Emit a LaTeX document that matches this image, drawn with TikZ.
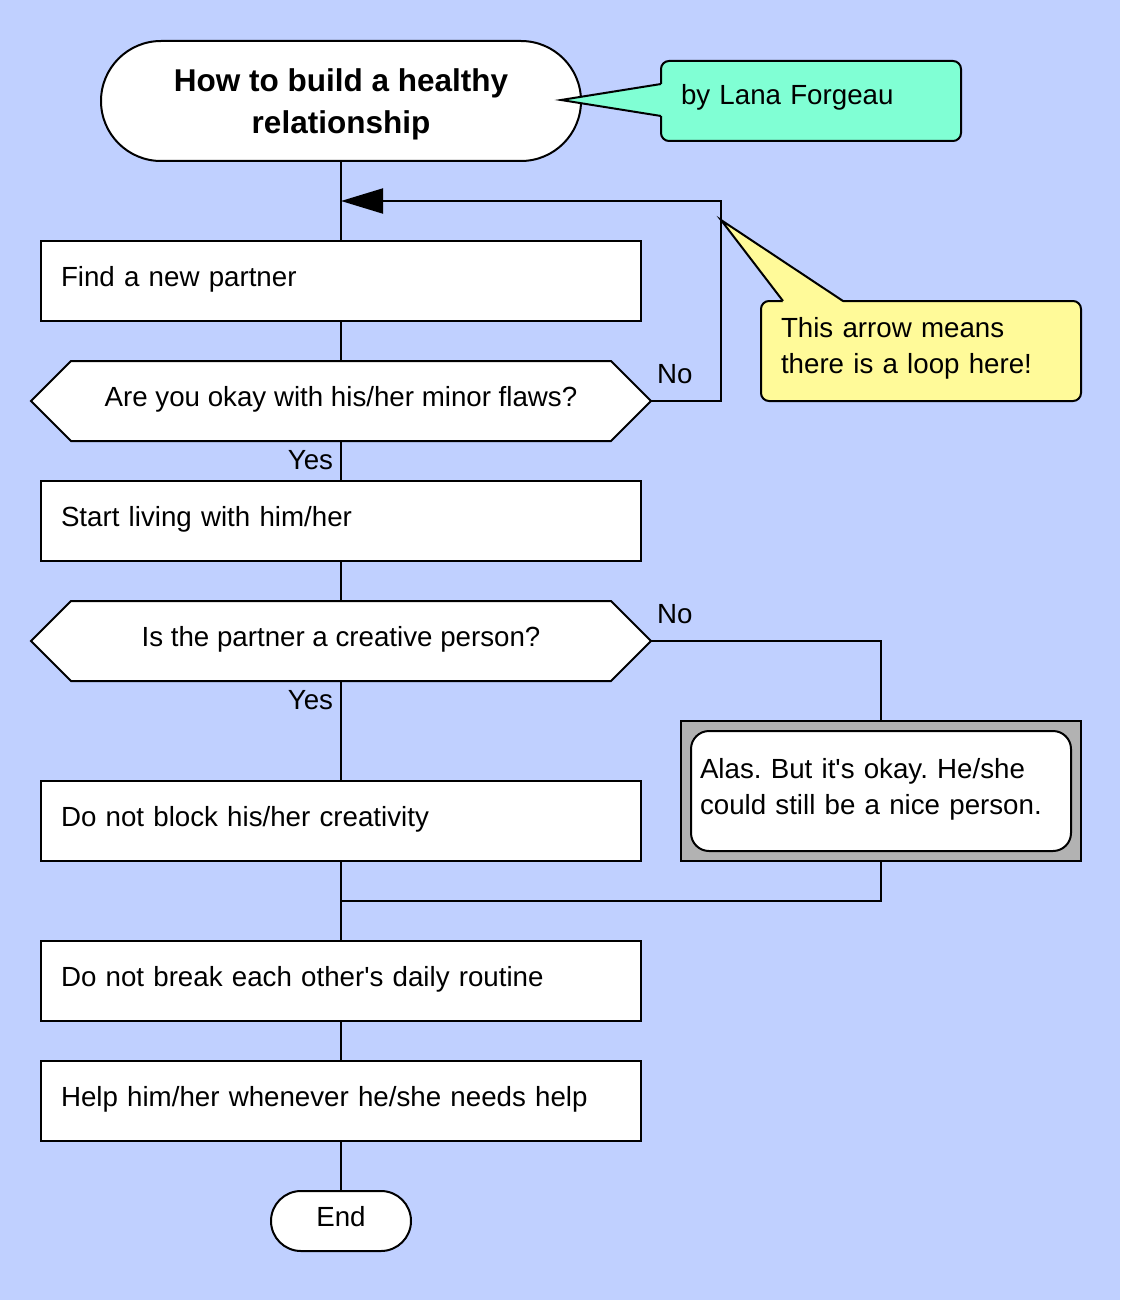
\documentclass[tikz,border=0pt]{standalone}
\usepackage{fontspec}
\setmainfont{Liberation Sans}[Ligatures=TeXOff]
\newfontfamily\bodyf{Liberation Sans}[Ligatures=TeXOff]
\newfontfamily\titlef{Liberation Sans}[Ligatures=TeXOff]
\usetikzlibrary{arrows.meta}
\definecolor{bgc}{RGB}{192,208,255}
\definecolor{greenc}{RGB}{128,255,212}
\definecolor{yellowc}{RGB}{255,250,153}
\definecolor{greyc}{RGB}{178,178,178}
\frenchspacing
\begin{document}
\begin{tikzpicture}[x=1pt,y=-1pt,
  every node/.style={inner sep=0pt,outer sep=0pt},
  line/.style={line width=2pt,draw=black},
  bodytext/.style={font=\bodyf\fontsize{27.7}{36}\selectfont\frenchspacing},
  stepbox/.style={line,bodytext,fill=white,minimum width=600pt,minimum height=80pt,
     text width=560pt,inner xsep=20pt,align=left,text height=18pt,text depth=8pt},
  hexshape/.style={line,fill=white},
  hextext/.style={bodytext,minimum width=620pt,minimum height=80pt,text height=18pt,text depth=8pt},
  lbl/.style={bodytext},
  tip/.style={-{Triangle[length=42pt,width=25pt]}}
]
\useasboundingbox (0,0) rectangle (1120,1300);
\fill[bgc] (0,0) rectangle (1120,1300);

% title
\node[line,fill=white,rounded corners=60pt,minimum width=480pt,minimum height=120pt,
  align=center,font=\titlef\bfseries\fontsize{31.5}{42}\selectfont] (title) at (341,101)
  {\rule{0pt}{31pt}How to build a healthy\\relationship\rule[-7pt]{0pt}{7pt}};

% author callout
\node[line,fill=greenc,rounded corners=8pt,minimum width=300pt,minimum height=80pt,
  text width=260pt,inner xsep=20pt,align=left,bodytext,text height=17pt,text depth=9pt]
  (author) at (811,101) {by Lana Forgeau};
\fill[greenc] (662,84) -- (561,100) -- (662,116) -- (663.5,116) -- (663.5,84) -- cycle;
\draw[line] (661,84) -- (561,100) -- (661,116);

% note callout
\node[line,fill=yellowc,rounded corners=8pt,minimum width=320pt,minimum height=100pt,
  text width=280pt,inner xsep=20pt,align=left,bodytext] (note) at (921,351)
  {\rule{0pt}{22pt}This arrow means\\there is a loop here!\rule[-14pt]{0pt}{14pt}};
\fill[yellowc] (783,302) -- (721,220) -- (843,302) -- (843,303.5) -- (783,303.5) -- cycle;
\draw[line] (783,301) -- (721,220) -- (843,301);

% steps
\node[stepbox] (find) at (341,281) {Find a new partner};
\draw[hexshape] (31,401) -- (71,361) -- (611,361) -- (651,401) -- (611,441) -- (71,441) -- cycle;
\node[hextext] (q1) at (341,401) {Are you okay with his/her minor flaws?};
\node[stepbox] (live) at (341,521) {Start living with him/her};
\draw[hexshape] (31,641) -- (71,601) -- (611,601) -- (651,641) -- (611,681) -- (71,681) -- cycle;
\node[hextext] (q2) at (341,641) {Is the partner a creative person?};
\node[stepbox] (block) at (341,821) {Do not block his/her creativity};
\node[line,fill=greyc,minimum width=400pt,minimum height=140pt] (alasframe) at (881,791) {};
\node[line,fill=white,rounded corners=18pt,minimum width=380pt,minimum height=120pt,
  text width=362pt,inner xsep=9pt,align=left,bodytext] (alas) at (881,791)
  {\rule{0pt}{22pt}Alas. But it's okay. He/she\\could still be a nice person.\rule[-12pt]{0pt}{12pt}};
\node[stepbox] (routine) at (341,981) {Do not break each other's daily routine};
\node[stepbox] (help) at (341,1101) {Help him/her whenever he/she needs help};
\node[line,fill=white,rounded corners=30pt,minimum width=140pt,minimum height=60pt,
  bodytext,text height=18pt,text depth=8pt] (finish) at (341,1221) {End};

% labels
\node[lbl,anchor=base west] (no1) at (657,383) {No};
\node[lbl,anchor=base east] (yes1) at (333,469) {Yes};
\node[lbl,anchor=base west] (no2) at (657,623) {No};
\node[lbl,anchor=base east] (yes2) at (333,709) {Yes};

% connectors
\coordinate (loopc) at (721,201);
\coordinate (merge1) at (341,201);
\coordinate (merge2) at (341,901);
\draw[line] (title.south) -- (find.north);
\draw[line] (find.south) -- (q1.north);
\draw[line] (q1.south) -- (live.north);
\draw[line,tip] (q1.east) -| (loopc) -- (merge1);
\draw[line] (live.south) -- (q2.north);
\draw[line] (q2.south) -- (block.north);
\draw[line] (q2.east) -| (alasframe.north);
\draw[line] (alasframe.south) |- (merge2);
\draw[line] (block.south) -- (routine.north);
\draw[line] (routine.south) -- (help.north);
\draw[line] (help.south) -- (finish.north);
\end{tikzpicture}
\end{document}
